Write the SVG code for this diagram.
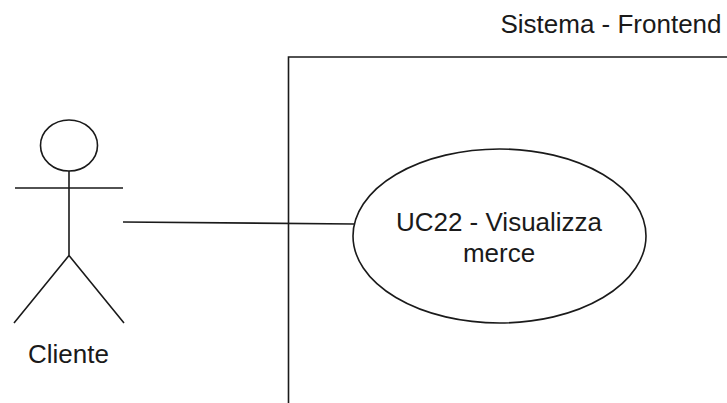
<svg xmlns="http://www.w3.org/2000/svg" width="727" height="403" viewBox="0 0 727 403">
<style>
.s{fill:none;stroke:#1a1a1a;stroke-width:1.6}
text{font-family:"Liberation Sans",Arial,sans-serif;font-size:26px;fill:#1a1a1a;text-anchor:middle}
</style>
<rect width="727" height="403" fill="#fff"/>
<g id="system"><path class="s" d="M288.5 403V57H727"/><text x="611" y="33">Sistema - Frontend</text></g>
<g id="connectors"><path class="s" d="M123 222L354 224"/></g>
<g id="actor">
<ellipse class="s" cx="69" cy="145.5" rx="28.5" ry="25.5"/>
<path class="s" d="M69 171V255.5M15 188H123M69 255.5L14 323M69 255.5L124 323"/>
<text x="68.500" y="363">Cliente</text>
</g>
<g id="usecase">
<ellipse class="s" cx="499.500" cy="236" rx="146.500" ry="87" fill="#fff"/>
<text x="499" y="231">UC22 - Visualizza</text>
<text x="499" y="262">merce</text>
</g>
</svg>
